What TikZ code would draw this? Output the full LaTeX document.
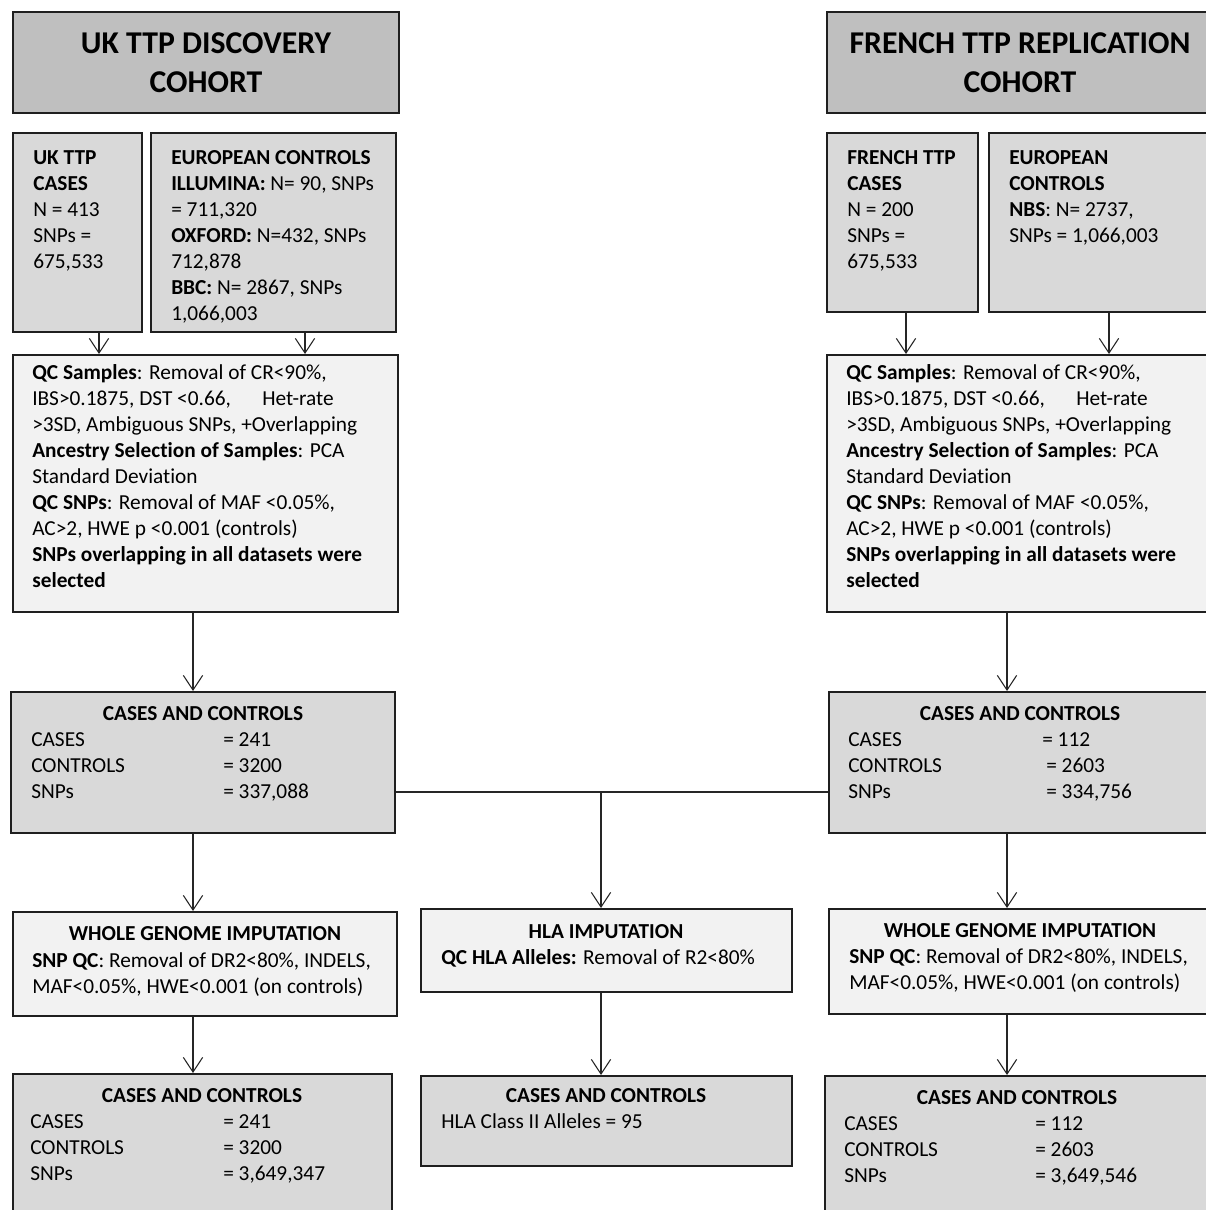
\documentclass[tikz,border=0pt]{standalone}
\usepackage{fontspec}
\setmainfont{Carlito}[Ligatures=NoCommon]
\usetikzlibrary{fit,arrows.meta}
\definecolor{titlegray}{HTML}{BFBFBF}
\definecolor{midgray}{HTML}{D9D9D9}
\definecolor{lightgray}{HTML}{F2F2F2}
\newcommand\txtlines[1]{\begin{tabular}[t]{@{}l@{}}#1\end{tabular}}
\newcommand\txtcenter[1]{\begin{tabular}[t]{@{}c@{}}#1\end{tabular}}
\tikzset{
  box/.style={draw=black!88, line width=1.5pt, inner sep=0pt, rectangle},
  titlebox/.style={box, fill=titlegray},
  midbox/.style={box, fill=midgray},
  lightbox/.style={box, fill=lightgray},
  txt/.style={inner sep=0pt, anchor=base west, font=\fontsize{16pt}{19.5pt}\selectfont},
  ctxt/.style={txt, anchor=base},
  ttl/.style={inner sep=0pt, anchor=base, font=\fontsize{23.8pt}{29.25pt}\selectfont\bfseries},
  conn/.style={draw=black!85, line width=0.8pt},
  arr/.style={conn, -{Straight Barb[length=11pt,width=14.5pt]}},
}
\begin{document}
\begin{tikzpicture}[x=0.75pt,y=-0.75pt]
\useasboundingbox (0,0) rectangle (1206,1210);
\clip (0,0) rectangle (1206,1210);
\fill[white] (0,0) rectangle (1206,1210);
% ---------- boxes ----------
\node[titlebox, fit={(13,12) (399,113)}] (t1) {};
\node[titlebox, fit={(827,12) (1213,113)}] (t2) {};
\node[midbox, fit={(13,133) (142,332)}] (c1) {};
\node[midbox, fit={(151,133) (396,332)}] (e1) {};
\node[midbox, fit={(827,133) (978,312)}] (c2) {};
\node[midbox, fit={(989,133) (1213,312)}] (e2) {};
\node[lightbox, fit={(13,355) (398,612)}] (q1) {};
\node[lightbox, fit={(827,355) (1213,612)}] (q2) {};
\node[midbox, fit={(11,692) (395,833)}] (cc1) {};
\node[midbox, fit={(829,692) (1213,833)}] (cc2) {};
\node[lightbox, fit={(13,912) (397,1016)}] (w1) {};
\node[lightbox, fit={(421,909) (792,992)}] (h) {};
\node[lightbox, fit={(829,909) (1212,1014)}] (w2) {};
\node[midbox, fit={(13,1074) (392,1240)}] (f1) {};
\node[midbox, fit={(421,1076) (792,1166)}] (fh) {};
\node[midbox, fit={(825,1076) (1210,1240)}] (f2) {};
% ---------- texts ----------
\node[ttl] (t1txt) at (206,53) {\txtcenter{UK TTP DISCOVERY\\COHORT}};
\node[ttl] (t2txt) at (1020,53) {\txtcenter{FRENCH TTP REPLICATION\\COHORT}};
\node[txt] (c1txt) at (33,164) {\txtlines{\textbf{UK TTP}\\\textbf{CASES}\\N = 413\\SNPs =\\675,533}};
\node[txt] (e1txt) at (171,164) {\txtlines{\textbf{EUROPEAN CONTROLS}\\\textbf{ILLUMINA:} N= 90, SNPs\\= 711,320\\\textbf{OXFORD:} N=432, SNPs\\712,878\\\textbf{BBC:} N= 2867, SNPs\\1,066,003}};
\node[txt] (c2txt) at (847,164) {\txtlines{\textbf{FRENCH TTP}\\\textbf{CASES}\\N = 200\\SNPs =\\675,533}};
\node[txt] (e2txt) at (1009,164) {\txtlines{\textbf{EUROPEAN}\\\textbf{CONTROLS}\\\textbf{NBS}: N= 2737,\\SNPs = 1,066,003}};
\node[txt] (q1txt) at (32,379) {\txtlines{\textbf{QC Samples}: Removal of CR<90\%,\\\makebox[172.5pt][l]{IBS>0.1875, DST <0.66,}Het-rate\\>3SD, Ambiguous SNPs, +Overlapping\\\textbf{Ancestry Selection of Samples}: PCA\\Standard Deviation\\\textbf{QC SNPs}: Removal of MAF <0.05\%,\\AC>2, HWE p <0.001 (controls)\\\textbf{SNPs overlapping in all datasets were}\\\textbf{selected}}};
\node[txt] (q2txt) at (846,379) {\txtlines{\textbf{QC Samples}: Removal of CR<90\%,\\\makebox[172.5pt][l]{IBS>0.1875, DST <0.66,}Het-rate\\>3SD, Ambiguous SNPs, +Overlapping\\\textbf{Ancestry Selection of Samples}: PCA\\Standard Deviation\\\textbf{QC SNPs}: Removal of MAF <0.05\%,\\AC>2, HWE p <0.001 (controls)\\\textbf{SNPs overlapping in all datasets were}\\\textbf{selected}}};
% cases and controls (UK)
\node[ctxt] (cc1h) at (203,720) {\textbf{CASES AND CONTROLS}};
\node[txt] (cc1l) at (31,746) {\txtlines{CASES\\CONTROLS\\SNPs}};
\node[txt] (cc1v) at (223,746) {\txtlines{= 241\\= 3200\\= 337,088}};
% cases and controls (French)
\node[ctxt] (cc2h) at (1020,720) {\textbf{CASES AND CONTROLS}};
\node[txt] (cc2l) at (848,746) {\txtlines{CASES\\CONTROLS\\SNPs}};
\node[txt] (cc2v) at (1042,746) {\txtlines{= 112\\\hspace*{3pt}= 2603\\\hspace*{3pt}= 334,756}};
% whole genome imputation (UK)
\node[ctxt] (w1h) at (205,940) {\textbf{WHOLE GENOME IMPUTATION}};
\node[txt] (w1t) at (32,967) {\txtlines{\textbf{SNP QC}: Removal of DR2<80\%, INDELS,\\MAF<0.05\%, HWE<0.001 (on controls)}};
% HLA imputation
\node[ctxt] (hh) at (606,938) {\textbf{HLA IMPUTATION}};
\node[txt] (ht) at (441,964) {\textbf{QC HLA Alleles:} Removal of R2<80\%};
% whole genome imputation (French)
\node[ctxt] (w2h) at (1020,937) {\textbf{WHOLE GENOME IMPUTATION}};
\node[txt] (w2t) at (849,963) {\txtlines{\textbf{SNP QC}: Removal of DR2<80\%, INDELS,\\MAF<0.05\%, HWE<0.001 (on controls)}};
% final UK
\node[ctxt] (f1h) at (202,1102) {\textbf{CASES AND CONTROLS}};
\node[txt] (f1l) at (30,1128) {\txtlines{CASES\\CONTROLS\\SNPs}};
\node[txt] (f1v) at (223,1128) {\txtlines{= 241\\= 3200\\= 3,649,347}};
% final HLA
\node[ctxt] (fhh) at (606,1102) {\textbf{CASES AND CONTROLS}};
\node[txt] (fht) at (441,1128) {HLA Class II Alleles = 95};
% final French
\node[ctxt] (f2h) at (1017,1104) {\textbf{CASES AND CONTROLS}};
\node[txt] (f2l) at (844,1130) {\txtlines{CASES\\CONTROLS\\SNPs}};
\node[txt] (f2v) at (1035,1130) {\txtlines{= 112\\= 2603\\= 3,649,546}};
% ---------- connectors ----------
\coordinate (xa) at (99,0);
\coordinate (xb) at (305,0);
\coordinate (xc) at (906,0);
\coordinate (xd) at (1109,0);
\coordinate (xe) at (193,0);
\coordinate (xf) at (1007,0);
\coordinate (xg) at (601,0);
\coordinate (yh) at (0,792);
\draw[arr] (c1.south -| xa) -- (q1.north -| xa);
\draw[arr] (e1.south -| xb) -- (q1.north -| xb);
\draw[arr] (c2.south -| xc) -- (q2.north -| xc);
\draw[arr] (e2.south -| xd) -- (q2.north -| xd);
\draw[arr] (q1.south -| xe) -- (cc1.north -| xe);
\draw[arr] (q2.south -| xf) -- (cc2.north -| xf);
\draw[arr] (cc1.south -| xe) -- (w1.north -| xe);
\draw[arr] (cc2.south -| xf) -- (w2.north -| xf);
\draw[arr] (w1.south -| xe) -- (f1.north -| xe);
\draw[arr] (w2.south -| xf) -- (f2.north -| xf);
\draw[arr] (h.south -| xg) -- (fh.north -| xg);
\draw[conn] (cc1.east |- yh) -- (cc2.west |- yh);
\draw[arr] (yh -| xg) -- (h.north -| xg);
\end{tikzpicture}
\end{document}
